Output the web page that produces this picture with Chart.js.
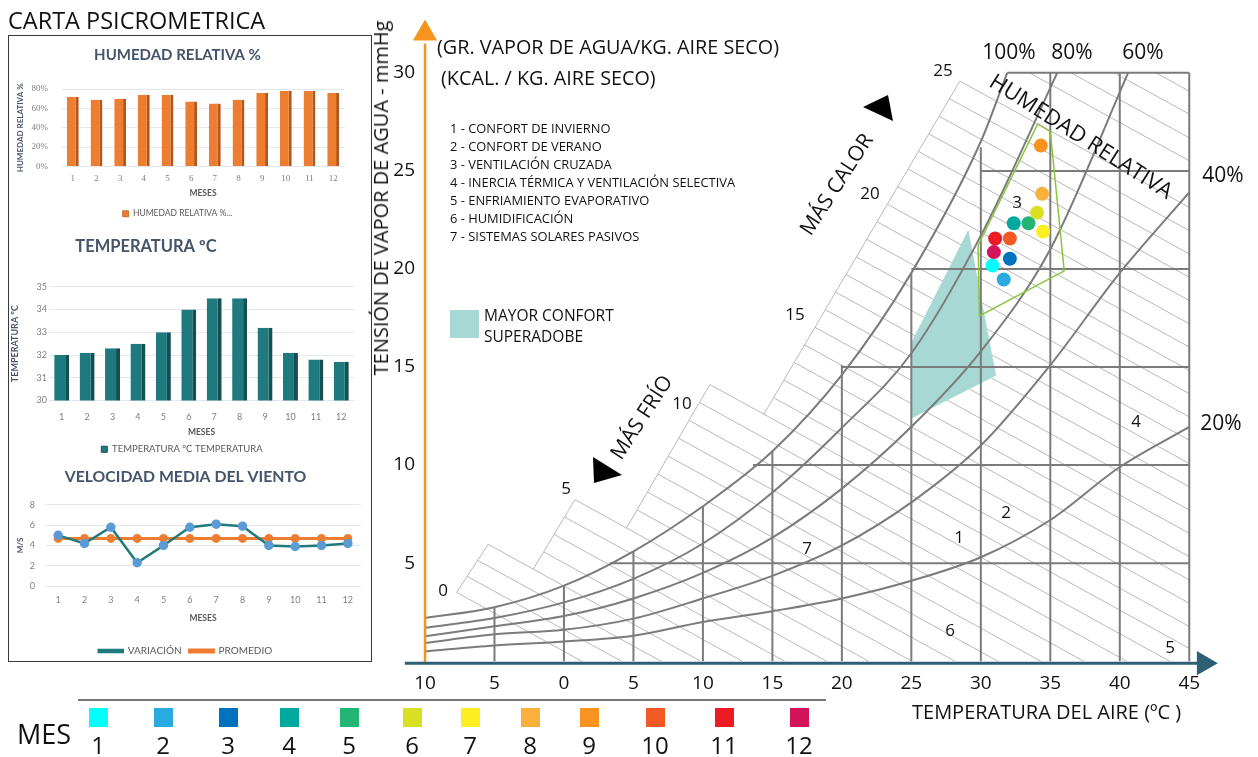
<!DOCTYPE html>
<html>
<head>
<meta charset="utf-8">
<script src="https://cdn.jsdelivr.net/npm/chart.js@4.4.0/dist/chart.umd.min.js"></script>
<style>
  body { margin: 0; background: #fff; }
  #page { position: relative; width: 1258px; height: 757px; overflow: hidden; font-family: 'Open Sans', sans-serif; color: #111; }
  canvas { position: absolute; }
  .lbl { position: absolute; white-space: nowrap; line-height: 1.2; }
  #panel { position: absolute; left: 8px; top: 35px; width: 362px; height: 625px; border: 1.5px solid #3a3a3a; }
  .sq { position: absolute; width: 19px; height: 19px; }
  .tri { position: absolute; background: #000; }
</style>
</head>
<body>
<div id="page">
  <div id="panel"></div>
  <canvas id="cPsy" width="1258" height="757" style="left:0;top:0"></canvas>
  <canvas id="cHum" width="358" height="190" style="left:10px;top:38px"></canvas>
  <canvas id="cTemp" width="358" height="232" style="left:10px;top:228px"></canvas>
  <canvas id="cWind" width="358" height="200" style="left:10px;top:460px"></canvas>
</div>
<script>
// ---- datos de los graficos de la izquierda ----
var meses = ['1','2','3','4','5','6','7','8','9','10','11','12'];
var humedad = [72, 69, 70, 74, 74, 67, 65, 69, 76, 78, 78, 76];
var temperatura = [32.0, 32.1, 32.3, 32.5, 33.0, 34.0, 34.5, 34.5, 33.2, 32.1, 31.8, 31.7];
var vientoVariacion = [5.0, 4.2, 5.8, 2.3, 4.0, 5.8, 6.1, 5.9, 4.0, 3.9, 4.0, 4.2];
var vientoPromedio = [4.7, 4.7, 4.7, 4.7, 4.7, 4.7, 4.7, 4.7, 4.7, 4.7, 4.7, 4.7];

// ---- carta psicrometrica ----
var tempTicks = [-10, -5, 0, 5, 10, 15, 20, 25, 30, 35, 40, 45];
var vaporTicks = [5, 10, 15, 20, 25, 30];
// curvas de humedad relativa (temperatura, mmHg)
var hr100T = [-10, -5, 0, 5, 10, 15, 20, 25, 30, 31.9];
var hr100V = [2.2, 2.75, 3.85, 5.6, 7.9, 10.7, 14.6, 19.8, 26.5, 30];
var hr80T = [-10, -5, 0, 5, 10, 15, 20, 25, 30, 35.5];
var hr80V = [1.7, 2.2, 3.0, 4.2, 6.0, 8.6, 11.9, 15.7, 21.7, 30];
var hr60T = [-10, -5, 0, 5, 10, 15, 20, 25, 30, 35, 40.6];
var hr60V = [1.27, 1.78, 2.3, 3.2, 4.5, 6.3, 8.8, 11.95, 15.8, 21, 30];
var hr40T = [-10, -5, 0, 5, 10, 15, 20, 25, 30, 35, 40, 45];
var hr40V = [0.93, 1.37, 1.6, 2.17, 3.2, 4.35, 5.9, 8.1, 11.0, 15.1, 19.8, 23.9];
var hr20T = [-10, -5, 0, 5, 10, 15, 20, 25, 30, 35, 40, 45];
var hr20V = [0.5, 0.8, 1.0, 1.3, 2.0, 2.55, 3.2, 4.1, 5.3, 7.2, 9.9, 11.95];
// cuadricula
var gridVT = [-5, 0, 5, 10, 15, 20, 25, 30, 35, 40, 45];
var gridVTop = [2.75, 3.85, 5.6, 7.9, 10.7, 15.1, 19.8, 26.2, 30, 30, 30];
var gridHV = [5, 10, 15, 20, 25, 30];
var gridHStart = [3.3, 13.6, 20, 25, 30, 31.9];
// escala de bulbo humedo (bloques: T0, v0, T1, v1) y numero de lineas
var bandEdges = [[-7.72, 3.51, -5.45, 5.96], [-2.21, 4.69, 0.79, 8.24], [4.51, 6.80, 10.50, 14.11], [14.34, 12.54, 28.49, 29.58]];
var bandSteps = [3, 4, 8, 19];
var topHatchT = [33.5, 36.5, 39.6, 42.6];
var hatchSlope = -0.39;
// zonas
var confortT = [29.1, 25.0, 25.0, 31.1, 29.1];
var confortV = [22.0, 16.25, 12.37, 14.57, 22.0];
var zona3T = [34.1, 35.0, 36.0, 29.9, 29.8, 34.1];
var zona3V = [27.4, 27.0, 19.9, 17.6, 21.2, 27.4];
// meses sobre la carta
var mesT = [30.84, 31.65, 32.09, 32.37, 33.43, 34.05, 34.48, 34.41, 34.32, 32.09, 31.03, 30.94];
var mesV = [20.17, 19.46, 20.52, 22.33, 22.33, 22.87, 21.91, 23.83, 26.29, 21.55, 21.55, 20.86];
var mesColores = ['#00ffff', '#29abe2', '#0071bc', '#00a99d', '#22b573', '#d9e021', '#fcee21', '#fbb03b', '#f7931e', '#f15a24', '#ed1c24', '#d4145a'];

var zonas = ['1 - CONFORT DE INVIERNO', '2 - CONFORT DE VERANO', '3 - VENTILACIÓN CRUZADA', '4 - INERCIA TÉRMICA Y VENTILACIÓN SELECTIVA', '5 - ENFRIAMIENTO EVAPORATIVO', '6 - HUMIDIFICACIÓN', '7 - SISTEMAS SOLARES PASIVOS'];

var page = document.getElementById('page');
function addText(txt, x, y, size, opts) {
  opts = opts || {};
  var d = document.createElement('div');
  d.className = 'lbl';
  d.textContent = txt;
  d.style.left = x + 'px';
  d.style.top = y + 'px';
  d.style.fontSize = size + 'px';
  if (opts.weight) d.style.fontWeight = opts.weight;
  var ax = opts.left ? '0' : '-50%';
  d.style.transform = 'translate(' + ax + ',-50%)' + (opts.rot ? ' rotate(' + opts.rot + 'deg)' : '');
  page.appendChild(d);
  return d;
}
// triangulo negro de las flechas "MÁS FRÍO" / "MÁS CALOR"
function addTriangle(p) {
  var xs = p.map(function(q) { return q[0]; }), ys = p.map(function(q) { return q[1]; });
  var x0 = Math.min.apply(null, xs), y0 = Math.min.apply(null, ys);
  var d = document.createElement('div');
  d.className = 'tri';
  d.style.left = x0 + 'px';
  d.style.top = y0 + 'px';
  d.style.width = (Math.max.apply(null, xs) - x0) + 'px';
  d.style.height = (Math.max.apply(null, ys) - y0) + 'px';
  d.style.clipPath = 'polygon(' + p.map(function(q) { return (q[0] - x0) + 'px ' + (q[1] - y0) + 'px'; }).join(',') + ')';
  page.appendChild(d);
}

function pts(xs, ys) {
  return xs.map(function(x, i) { return {x: x, y: ys[i]}; });
}
function seg(data, color, width, order) {
  return { data: data, showLine: true, borderColor: color, borderWidth: width, pointRadius: 0, fill: false, order: order };
}
function hatchEnd(t0, v0) {
  var t1 = t0 - v0 / hatchSlope, v1 = 0;
  if (t1 > 45) { t1 = 45; v1 = v0 + hatchSlope * (45 - t0); }
  return {x: t1, y: v1};
}

var psyDatasets = [];
// lineas de bulbo humedo
bandEdges.forEach(function(e, k) {
  var n = bandSteps[k];
  psyDatasets.push(seg([{x: e[0], y: e[1]}, {x: e[2], y: e[3]}], '#b9b9b9', 1, 20));
  for (var i = (k === 0 ? 0 : 1); i <= n; i++) {
    var t0 = e[0] + (e[2] - e[0]) * i / n, v0 = e[1] + (e[3] - e[1]) * i / n;
    psyDatasets.push(seg([{x: t0, y: v0}, hatchEnd(t0, v0)], '#b9b9b9', 1, 20));
  }
});
topHatchT.forEach(function(t) {
  psyDatasets.push(seg([{x: t, y: 30}, hatchEnd(t, 30)], '#b9b9b9', 1, 20));
});
// zona de mayor confort superadobe
psyDatasets.push({ data: pts(confortT, confortV), showLine: true, borderWidth: 0, pointRadius: 0, fill: 'shape', backgroundColor: '#a8d8d3', order: 15 });
// cuadricula
gridVT.forEach(function(t, i) {
  psyDatasets.push(seg([{x: t, y: 0}, {x: t, y: gridVTop[i]}], '#7b7b7b', 2, 10));
});
gridHV.forEach(function(v, i) {
  psyDatasets.push(seg([{x: gridHStart[i], y: v}, {x: 45, y: v}], '#7b7b7b', 2, 10));
});
// curvas de humedad relativa
[[hr100T, hr100V], [hr80T, hr80V], [hr60T, hr60V], [hr40T, hr40V], [hr20T, hr20V]].forEach(function(c) {
  var d = seg(pts(c[0], c[1]), '#7b7b7b', 2, 9);
  d.cubicInterpolationMode = 'monotone';
  psyDatasets.push(d);
});
// zona 3
psyDatasets.push(seg(pts(zona3T, zona3V), '#8cc63f', 1.5, 5));
// ejes
var ejeX = seg([{x: -11.45, y: -0.1}, {x: 45.8, y: -0.1}], '#2d5f75', 3, 4); ejeX.clip = false;
var ejeY = seg([{x: -10, y: -0.1}, {x: -10, y: 31.5}], '#f7941d', 2.5, 4); ejeY.clip = false;
psyDatasets.push(ejeX, ejeY);
psyDatasets.push({ data: [{x: 46.05, y: -0.1}], showLine: false, pointStyle: 'triangle', pointRotation: 90, pointRadius: 14, backgroundColor: '#2d5f75', borderWidth: 0, clip: false, order: 3 });
psyDatasets.push({ data: [{x: -10, y: 32.0}], showLine: false, pointStyle: 'triangle', pointRotation: 0, pointRadius: 14, backgroundColor: '#f7941d', borderWidth: 0, clip: false, order: 3 });
// meses
psyDatasets.push({ data: pts(mesT, mesV), showLine: false, pointRadius: 7, pointBackgroundColor: mesColores, pointBorderWidth: 0, order: 1 });

new Chart(document.getElementById('cPsy'), {
  type: 'scatter',
  data: { datasets: psyDatasets },
  options: {
    responsive: false,
    animation: false,
    layout: { padding: { top: 9, right: 34, left: 0, bottom: 0 } },
    plugins: { legend: { display: false }, tooltip: { enabled: false } },
    scales: {
      x: {
        type: 'linear', min: -10, max: 47.5,
        grid: { display: false }, border: { display: false },
        ticks: { color: '#111', font: { family: 'Open Sans', size: 19 }, padding: -7, autoSkip: false, maxRotation: 0,
                 callback: function(v) { return Math.abs(v); } },
        afterBuildTicks: function(s) { s.ticks = tempTicks.map(function(v) { return {value: v}; }); },
        afterFit: function(s) { s.height = 86; }
      },
      y: {
        type: 'linear', min: -0.5, max: 33,
        grid: { display: false }, border: { display: false },
        ticks: { color: '#111', font: { family: 'Open Sans', size: 19 }, padding: 2 },
        afterBuildTicks: function(s) { s.ticks = vaporTicks.map(function(v) { return {value: v}; }); },
        afterFit: function(s) { s.width = 425; }
      }
    }
  }
});

// ---- graficos del panel ----
var fontTxt = 'Lato';
new Chart(document.getElementById('cHum'), {
  type: 'bar',
  data: { labels: meses, datasets: [{ label: 'HUMEDAD RELATIVA %...', data: humedad, backgroundColor: '#ed7d31', borderColor: '#b3561c',
          borderWidth: { top: 0, right: 3, bottom: 0, left: 0 }, borderSkipped: false, barPercentage: 0.5, categoryPercentage: 1 }] },
  options: {
    responsive: false, animation: false,
    layout: { padding: { right: 23 } },
    plugins: {
      title: { display: true, text: 'HUMEDAD RELATIVA %', color: '#44546a', font: { family: fontTxt, size: 15, weight: 'bold' }, padding: { top: 8, bottom: 25 } },
      legend: { position: 'bottom', labels: { boxWidth: 6, boxHeight: 6, padding: 5, color: '#595959', font: { family: fontTxt, size: 8.5 } } },
      tooltip: { enabled: false }
    },
    scales: {
      x: { grid: { display: false }, border: { display: false },
           ticks: { color: '#7f7f7f', font: { family: 'Liberation Serif', size: 9 }, padding: -1 },
           title: { display: true, text: 'MESES', color: '#595959', font: { family: fontTxt, size: 8.5, weight: 'bold' }, padding: { top: 0, bottom: 6 } },
           afterFit: function(s) { s.height = 38; } },
      y: { min: 0, max: 80, grid: { color: '#e3e8ef', drawTicks: false }, border: { display: false },
           ticks: { stepSize: 20, color: '#7f7f7f', font: { family: 'Liberation Serif', size: 9 }, padding: 13, callback: function(v) { return v + '%'; } },
           title: { display: true, text: 'HUMEDAD RELATIVA %', color: '#44546a', font: { family: fontTxt, size: 8, weight: 'bold' }, padding: { top: 6, bottom: 0 } },
           afterFit: function(s) { s.width = 51; } }
    }
  }
});

new Chart(document.getElementById('cTemp'), {
  type: 'bar',
  data: { labels: meses, datasets: [{ label: 'TEMPERATURA ºC TEMPERATURA', data: temperatura, backgroundColor: '#1f7a80', borderColor: '#134f53',
          borderWidth: { top: 0, right: 4, bottom: 0, left: 0 }, borderSkipped: false, barPercentage: 0.59, categoryPercentage: 1 }] },
  options: {
    responsive: false, animation: false,
    layout: { padding: { right: 14, bottom: -4 } },
    plugins: {
      title: { display: true, text: 'TEMPERATURA ºC\u00A0\u00A0\u00A0\u00A0\u00A0\u00A0\u00A0\u00A0\u00A0\u00A0\u00A0\u00A0\u00A0\u00A0\u00A0\u00A0\u00A0\u00A0', color: '#44546a',
               font: { family: fontTxt, size: 16.5, weight: 'bold' }, padding: { top: 9, bottom: 30 } },
      legend: { position: 'bottom', labels: { boxWidth: 6, boxHeight: 6, padding: 7, color: '#595959', font: { family: fontTxt, size: 9.5 } } },
      tooltip: { enabled: false }
    },
    scales: {
      x: { grid: { display: false }, border: { display: false },
           ticks: { color: '#7f7f7f', font: { family: fontTxt, size: 9 }, padding: 3 },
           title: { display: true, text: 'MESES', color: '#595959', font: { family: fontTxt, size: 8.5, weight: 'bold' }, padding: { top: 0, bottom: 0 } },
           afterFit: function(s) { s.height = 37; } },
      y: { min: 30, max: 35, grid: { color: '#e3e8ef', drawTicks: false }, border: { display: false },
           ticks: { stepSize: 1, color: '#7f7f7f', font: { family: fontTxt, size: 9 }, padding: 2 },
           title: { display: true, text: 'TEMPERATURA ºC', color: '#44546a', font: { family: fontTxt, size: 9, weight: 'bold' }, padding: { top: 0, bottom: 0 } },
           afterFit: function(s) { s.width = 39; } }
    }
  }
});

new Chart(document.getElementById('cWind'), {
  type: 'line',
  data: { labels: meses, datasets: [
    { label: 'VARIACIÓN', data: vientoVariacion, borderColor: '#1f7b7b', backgroundColor: '#1f7b7b', borderWidth: 2.5,
      pointRadius: 3.5, pointBackgroundColor: '#5b9bd5', pointBorderColor: '#5b9bd5', tension: 0 },
    { label: 'PROMEDIO', data: vientoPromedio, borderColor: '#ed7d31', backgroundColor: '#ed7d31', borderWidth: 3,
      pointRadius: 3, pointBackgroundColor: '#ed7d31', pointBorderColor: '#ed7d31', tension: 0 }
  ] },
  options: {
    responsive: false, animation: false,
    layout: { padding: { right: 7, bottom: -6 } },
    plugins: {
      title: { display: true, text: 'VELOCIDAD MEDIA DEL VIENTO', color: '#44546a', font: { family: fontTxt, size: 15.8, weight: 'bold' }, padding: { top: 7, bottom: 19 } },
      legend: { position: 'bottom', labels: { boxWidth: 24, boxHeight: 2, padding: 8, color: '#595959', font: { family: fontTxt, size: 10 } } },
      tooltip: { enabled: false }
    },
    scales: {
      x: { offset: true, grid: { display: false }, border: { display: false },
           ticks: { color: '#7f7f7f', font: { family: fontTxt, size: 9 }, padding: 1 },
           title: { display: true, text: 'MESES', color: '#595959', font: { family: fontTxt, size: 8.5, weight: 'bold' }, padding: { top: 0, bottom: 15 } },
           afterFit: function(s) { s.height = 52; } },
      y: { min: 0, max: 8, grid: { color: '#e3e8ef', drawTicks: false }, border: { display: false },
           ticks: { stepSize: 2, color: '#7f7f7f', font: { family: fontTxt, size: 9 }, padding: 10 },
           title: { display: true, text: 'M/S', color: '#44546a', font: { family: fontTxt, size: 8, weight: 'bold' }, padding: { top: 6, bottom: 0 } },
           afterFit: function(s) { s.width = 35; } }
    }
  }
});

// ---- textos ----
addText('CARTA PSICROMETRICA', 8, 20, 23.5, { left: true });
addText('(GR. VAPOR DE AGUA/KG. AIRE SECO)', 437, 47, 19.8, { left: true });
addText('(KCAL. / KG. AIRE SECO)', 441, 78, 19.8, { left: true });
zonas.forEach(function(z, i) { addText(z, 450, 129 + 18 * i, 12.9, { left: true }); });
var sw = document.createElement('div');
sw.style.cssText = 'position:absolute;left:450px;top:310px;width:29px;height:28px;background:#a8d8d3';
page.appendChild(sw);
addText('MAYOR CONFORT', 484, 315, 15.5, { left: true });
addText('SUPERADOBE', 484, 336, 15.5, { left: true });
addText('TENSIÓN DE VAPOR DE AGUA - mmHg', 381, 198, 20, { rot: -90 });
addText('TEMPERATURA DEL AIRE (ºC )', 912, 712, 20, { left: true });
[['0', 443, 590], ['5', 566, 488], ['10', 682, 403], ['15', 795, 314], ['20', 870, 193], ['25', 943, 70]].forEach(function(b) {
  addText(b[0], b[1], b[2], 17);
});
addText('MÁS FRÍO', 641, 417, 21, { rot: -57 });
addTriangle([[593, 457], [594, 483], [622, 475]]);
addText('MÁS CALOR', 836, 184, 21, { rot: -57 });
addTriangle([[863, 107], [888, 95], [893, 121]]);
addText('HUMEDAD RELATIVA', 1082, 135, 22, { rot: 32.5 });
[['100%', 1009, 52], ['80%', 1072, 52], ['60%', 1143, 52], ['40%', 1223, 175], ['20%', 1221, 423]].forEach(function(p) {
  addText(p[0], p[1], p[2], 21);
});
[['3', 1017, 202], ['4', 1136, 421], ['2', 1006, 512], ['1', 959, 537], ['7', 807, 548], ['6', 950, 630], ['5', 1170, 647]].forEach(function(p) {
  addText(p[0], p[1], p[2], 17);
});

// ---- leyenda de meses ----
var sep = document.createElement('div');
sep.style.cssText = 'position:absolute;left:78px;top:699px;width:748px;height:2px;background:#777';
page.appendChild(sep);
addText('MES', 17, 734, 27, { left: true });
var mesX = [98, 163, 228, 289, 349, 412, 470, 530, 589, 655, 724, 799];
mesX.forEach(function(x, i) {
  var s = document.createElement('div');
  s.className = 'sq';
  s.style.left = (x - 9.5) + 'px';
  s.style.top = '708px';
  s.style.background = mesColores[i];
  page.appendChild(s);
  addText(meses[i], x, 745, 24);
});
</script>
</body>
</html>
